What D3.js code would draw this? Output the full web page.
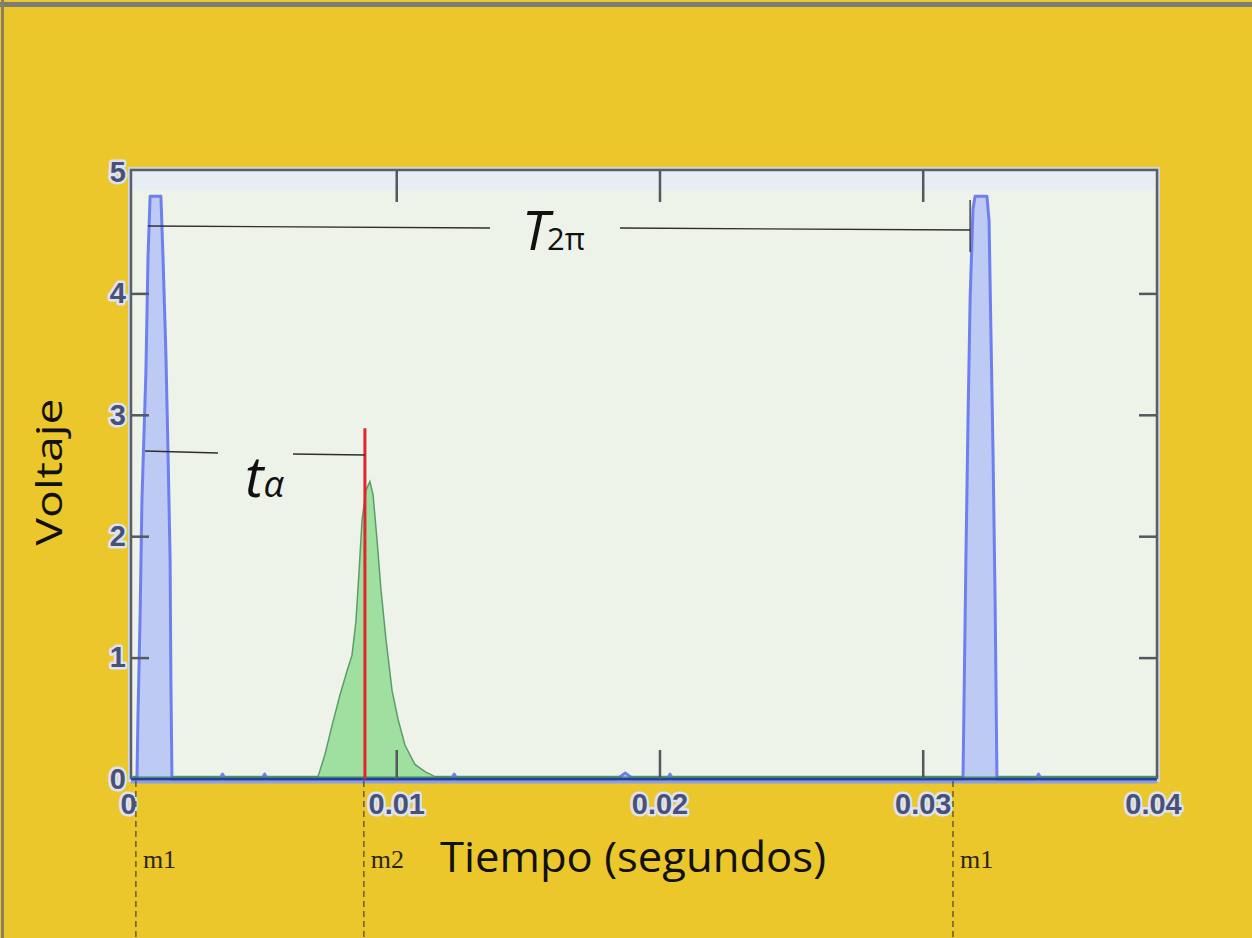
<!DOCTYPE html>
<html>
<head>
<meta charset="utf-8">
<script src="https://cdn.jsdelivr.net/npm/d3@7"></script>
<style>
  body { margin: 0; background: #ebc72b; }
  svg { display: block; }
</style>
</head>
<body>
<div id="chart"></div>
<script>
// Data (time in seconds, voltage in volts)
const blueT = [0, 0.00015, 0.00019, 0.00027, 0.00034, 0.00049, 0.00057, 0.00065, 0.00106, 0.00114, 0.00125, 0.00133, 0.00141, 0.00144, 0.00148,
  0.0033, 0.0034, 0.0035, 0.0049, 0.0050, 0.0051, 0.0121, 0.0122, 0.0123, 0.0184, 0.0187, 0.0190, 0.0203, 0.0204, 0.0205,
  0.03153, 0.03157, 0.03164, 0.03172, 0.03180, 0.03191, 0.03199, 0.03244, 0.03252, 0.03259, 0.03267, 0.03275, 0.03282,
  0.0343, 0.0344, 0.0345, 0.0389];
const blueV = [0, 0, 0.53, 1.35, 2.3, 3.35, 4.3, 4.8, 4.8, 4.3, 3.5, 2.7, 1.8, 0.8, 0,
  0, 0.04, 0, 0, 0.04, 0, 0, 0.04, 0, 0, 0.05, 0, 0, 0.04, 0,
  0, 0.65, 1.8, 2.95, 3.95, 4.7, 4.8, 4.8, 4.6, 3.7, 2.7, 1.47, 0,
  0, 0.04, 0, 0];

const greenT = [0, 0.00703, 0.00729, 0.00756, 0.00786, 0.00813, 0.00832, 0.00847, 0.00859, 0.00870, 0.00885, 0.00900,
  0.00912, 0.00927, 0.00942, 0.00961, 0.00984, 0.01007, 0.01033, 0.01071, 0.01109, 0.01147, 0.0389];
const greenV = [0.02, 0.02, 0.2, 0.44, 0.69, 0.89, 1.02, 1.3, 1.72, 2.13, 2.38, 2.45,
  2.34, 1.97, 1.56, 1.15, 0.73, 0.49, 0.28, 0.12, 0.06, 0.02, 0.02];

const redMark = { t: 0.00881, v: 2.89 };

const markers = [
  { name: "m1", t: 0.00011 },
  { name: "m2", t: 0.00877 },
  { name: "m1", t: 0.03115 }
];

const yTicks = [0, 1, 2, 3, 4, 5];
const xTicks = [0, 0.01, 0.02, 0.03];
const xEnd = 0.0389;        // right edge of the plot, labelled 0.04 in the picture
const xEndLabel = "0.04";

// Constants
let width = 1252;
let height = 938;
let margin = { left: 133, right: 95, top: 170, bottom: 159 };

let svg = d3.select("#chart")
  .append("svg")
    .attr("width", width)
    .attr("height", height);

// page frame
svg.append("rect").attr("x", 0).attr("y", 0).attr("width", width).attr("height", height).attr("fill", "#ebc72b");
svg.append("rect").attr("x", 0).attr("y", 2).attr("width", width).attr("height", 5).attr("fill", "#7b7b78");
svg.append("rect").attr("x", 1).attr("y", 0).attr("width", 3).attr("height", height).attr("fill", "#8a8060");

let x = d3.scaleLinear().domain([0, xEnd]).range([margin.left, width - margin.right]);
let y = d3.scaleLinear().domain([0, 5]).range([height - margin.bottom, margin.top + 2]);

let x0 = margin.left - 2, x1 = width - margin.right, y0 = margin.top, y1 = height - margin.bottom;

// plot background with a faint blue halo
svg.append("rect")
  .attr("x", x0 - 3).attr("y", y0 - 3)
  .attr("width", x1 - x0 + 6).attr("height", y1 - y0 + 6)
  .attr("fill", "#cdd6ea");
svg.append("rect")
  .attr("x", x0).attr("y", y0)
  .attr("width", x1 - x0).attr("height", y1 - y0)
  .attr("fill", "#eef3ea");
svg.append("rect")
  .attr("x", x0 + 2).attr("y", y0 + 2)
  .attr("width", x1 - x0 - 4).attr("height", 18)
  .attr("fill", "#e6edf4");

// series
let area = d3.area().x((d) => x(d[0])).y0(y(0)).y1((d) => y(d[1]));
let line = d3.line().x((d) => x(d[0])).y((d) => y(d[1]));

let blue = blueT.map((t, i) => [t, blueV[i]]);
let green = greenT.map((t, i) => [t, greenV[i]]);

svg.append("path").datum(green)
  .attr("d", area)
  .attr("fill", "#9fe0a0");
svg.append("path").datum(green)
  .attr("d", line)
  .attr("fill", "none")
  .attr("stroke", "#5c9c6c")
  .attr("stroke-width", 1.5);

svg.append("path").datum(blue)
  .attr("d", area)
  .attr("fill", "#bccaf4");
svg.append("path").datum(blue)
  .attr("d", line)
  .attr("fill", "none")
  .attr("stroke", "#6f7ff0")
  .attr("stroke-width", 3)
  .attr("stroke-linejoin", "round");

// baseline: dark blue trace on the zero line
svg.append("line")
  .attr("x1", x0).attr("x2", x1)
  .attr("y1", y(0) + 3).attr("y2", y(0) + 3)
  .attr("stroke", "#8c9ee8").attr("stroke-width", 3);
svg.append("line")
  .attr("x1", x0).attr("x2", x1)
  .attr("y1", y(0)).attr("y2", y(0))
  .attr("stroke", "#23409a").attr("stroke-width", 3);
svg.append("line")
  .attr("x1", x0).attr("x2", x1)
  .attr("y1", y(0) - 2).attr("y2", y(0) - 2)
  .attr("stroke", "#3c8a4a").attr("stroke-width", 1);

// red marker line
svg.append("line")
  .attr("x1", x(redMark.t)).attr("x2", x(redMark.t))
  .attr("y1", y(0)).attr("y2", y(redMark.v))
  .attr("stroke", "#e3242b").attr("stroke-width", 3);

// plot frame (top, left, right)
svg.append("path")
  .attr("d", `M${x0},${y1}V${y0}H${x1}V${y1}`)
  .attr("fill", "none")
  .attr("stroke", "#5a5e66")
  .attr("stroke-width", 2.5);

// Axes: ticks inside, labels outside
let tickFont = "'Liberation Sans Narrow', 'Arial Narrow', 'Liberation Sans', sans-serif";

let yAxis = svg.append("g")
  .attr("transform", `translate(${x0},0)`)
  .call(d3.axisLeft(y).tickValues(yTicks).tickSizeInner(-18).tickSizeOuter(0).tickPadding(5).tickFormat(d3.format("d")));
let yAxisR = svg.append("g")
  .attr("transform", `translate(${x1},0)`)
  .call(d3.axisRight(y).tickValues(yTicks.slice(1, 5)).tickSizeInner(-18).tickSizeOuter(0).tickFormat(""));

let xFmt = (d) => (d === xEnd ? xEndLabel : (d === 0 ? "0" : d3.format(".2f")(d)));
let xAxis = svg.append("g")
  .attr("transform", `translate(0,${y1})`)
  .call(d3.axisBottom(x).tickValues(xTicks.concat([xEnd])).tickSizeInner(-29).tickSizeOuter(0).tickPadding(14).tickFormat(xFmt));
let xAxisT = svg.append("g")
  .attr("transform", `translate(0,${y0})`)
  .call(d3.axisTop(x).tickValues(xTicks.slice(1)).tickSizeInner(-32).tickSizeOuter(0).tickFormat(""));

[yAxis, yAxisR, xAxis, xAxisT].forEach((g) => {
  g.select(".domain").remove();
  g.selectAll(".tick line").attr("stroke", "#55585e").attr("stroke-width", 2.5);
  g.selectAll(".tick text")
    .attr("font-family", tickFont)
    .attr("font-weight", "bold")
    .attr("font-size", 29)
    .attr("fill", "#4a5175")
    .attr("stroke", "#dbe3f4")
    .attr("stroke-width", 5)
    .attr("paint-order", "stroke")
    .attr("stroke-linejoin", "round");
});
// the end ticks are not drawn in the picture, only labels
xAxis.selectAll(".tick").filter((d) => d === 0 || d === xEnd).select("line").remove();
yAxis.selectAll(".tick").filter((d) => d === 0 || d === 5).select("line").remove();
xAxis.selectAll(".tick").filter((d) => d === 0).select("text").attr("dx", -5);
xAxis.selectAll(".tick").filter((d) => d === xEnd).select("text").attr("dx", -4);

// marker dashed lines below the plot
let mk = svg.append("g").selectAll("g").data(markers).enter().append("g");
mk.append("line")
  .attr("x1", (d) => x(d.t)).attr("x2", (d) => x(d.t))
  .attr("y1", y1 + 2).attr("y2", height)
  .attr("stroke", "#4a4030").attr("stroke-width", 1.2)
  .attr("stroke-dasharray", "6,4");
mk.append("text")
  .attr("x", (d) => x(d.t) + 7)
  .attr("y", 868)
  .attr("font-family", "'Liberation Serif', 'DejaVu Serif', serif")
  .attr("font-size", 26)
  .attr("fill", "#2a2410")
  .text((d) => d.name);

// Annotations: period T2π and delay tα
let annot = svg.append("g").attr("stroke", "#2e2e2e").attr("stroke-width", 1.3).attr("fill", "none");
annot.append("line").attr("x1", x(0.00057)).attr("x2", 490).attr("y1", 226).attr("y2", 228);
annot.append("line").attr("x1", 620).attr("x2", x(0.0318)).attr("y1", 228).attr("y2", 230);
annot.append("line").attr("x1", x(0.0318)).attr("x2", x(0.0318)).attr("y1", 200).attr("y2", 252);
annot.append("line").attr("x1", 145).attr("x2", 218).attr("y1", 451).attr("y2", 453);
annot.append("line").attr("x1", 293).attr("x2", x(redMark.t)).attr("y1", 454).attr("y2", 455);

let mathFont = "'Open Sans', 'DejaVu Sans', sans-serif";
let tp = svg.append("text")
  .attr("x", 522).attr("y", 250)
  .attr("font-family", mathFont).attr("font-style", "italic")
  .attr("font-size", 54).attr("fill", "#111");
tp.append("tspan").text("T");
tp.append("tspan").attr("font-size", 31).attr("font-style", "normal").attr("dx", -2).text("2π");

let ta = svg.append("text")
  .attr("x", 245).attr("y", 497)
  .attr("font-family", mathFont).attr("font-style", "italic")
  .attr("font-size", 56).attr("fill", "#111");
ta.append("tspan").text("t");
ta.append("tspan").attr("font-size", 36).text("α");

// Axis titles
svg.append("text")
  .attr("transform", "translate(62,472) rotate(-90)")
  .attr("text-anchor", "middle")
  .attr("font-family", mathFont)
  .attr("font-size", 37)
  .attr("textLength", 147)
  .attr("lengthAdjust", "spacingAndGlyphs")
  .attr("fill", "#111")
  .text("Voltaje");

svg.append("text")
  .attr("x", 633).attr("y", 872)
  .attr("text-anchor", "middle")
  .attr("font-family", mathFont)
  .attr("font-size", 42)
  .attr("textLength", 386)
  .attr("lengthAdjust", "spacingAndGlyphs")
  .attr("fill", "#111")
  .text("Tiempo (segundos)");
</script>
</body>
</html>
